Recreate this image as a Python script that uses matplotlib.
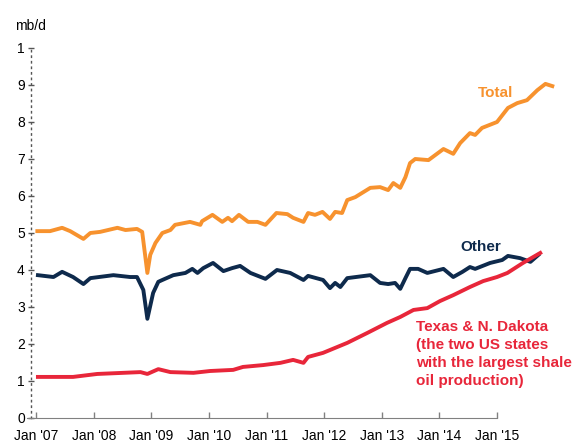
import matplotlib.pyplot as plt

plt.rcParams['font.family'] = ['Liberation Sans', 'DejaVu Sans']

# (year, mb/d); x follows the chart's own tick spacing
total_x = [2007.02, 2007.24, 2007.45, 2007.59, 2007.82, 2007.94, 2008.11, 2008.41, 2008.55,
           2008.75, 2008.84, 2008.93, 2008.98, 2009.07, 2009.19, 2009.33, 2009.41, 2009.67,
           2009.85, 2009.88, 2010.06, 2010.23, 2010.33, 2010.40, 2010.52, 2010.68, 2010.84,
           2010.98, 2011.17, 2011.36, 2011.46, 2011.64, 2011.72, 2011.84, 2011.97, 2012.10,
           2012.19, 2012.31, 2012.40, 2012.54, 2012.80, 2012.97, 2013.11, 2013.20, 2013.32,
           2013.41, 2013.49, 2013.58, 2013.81, 2014.07, 2014.24, 2014.36, 2014.53, 2014.62,
           2014.74, 2015.00, 2015.19, 2015.35, 2015.52, 2015.70, 2015.84, 2015.96]
total_y = [5.05, 5.05, 5.14, 5.05, 4.84, 5.00, 5.03, 5.14, 5.08,
           5.11, 5.03, 3.92, 4.41, 4.73, 5.00, 5.08, 5.22, 5.30,
           5.22, 5.32, 5.49, 5.30, 5.41, 5.32, 5.49, 5.30, 5.30,
           5.22, 5.54, 5.51, 5.41, 5.30, 5.54, 5.49, 5.57, 5.38,
           5.57, 5.54, 5.89, 5.97, 6.22, 6.24, 6.16, 6.35, 6.22,
           6.51, 6.89, 7.00, 6.97, 7.27, 7.14, 7.43, 7.70, 7.65,
           7.84, 8.00, 8.38, 8.51, 8.59, 8.86, 9.03, 8.97]

other_x = [2007.03, 2007.30, 2007.45, 2007.64, 2007.82, 2007.94, 2008.34, 2008.63, 2008.75,
           2008.86, 2008.93, 2009.03, 2009.12, 2009.19, 2009.38, 2009.59, 2009.71, 2009.80,
           2009.90, 2010.07, 2010.25, 2010.40, 2010.54, 2010.72, 2010.98, 2011.18, 2011.41,
           2011.64, 2011.72, 2011.98, 2012.10, 2012.19, 2012.28, 2012.40, 2012.80, 2012.97,
           2013.11, 2013.23, 2013.32, 2013.41, 2013.49, 2013.63, 2013.79, 2014.07, 2014.24,
           2014.40, 2014.53, 2014.62, 2014.88, 2015.09, 2015.19, 2015.40, 2015.58, 2015.72]
other_y = [3.86, 3.81, 3.95, 3.81, 3.62, 3.78, 3.86, 3.81, 3.81,
           3.46, 2.68, 3.38, 3.68, 3.73, 3.86, 3.92, 4.03, 3.92,
           4.05, 4.19, 3.97, 4.05, 4.11, 3.92, 3.76, 4.00, 3.92,
           3.73, 3.84, 3.73, 3.51, 3.65, 3.54, 3.78, 3.86, 3.65,
           3.62, 3.65, 3.49, 3.78, 4.03, 4.03, 3.92, 4.03, 3.81,
           3.95, 4.08, 4.03, 4.19, 4.27, 4.38, 4.32, 4.22, 4.41]

shale_x = [2007.03, 2007.64, 2008.06, 2008.81, 2008.93, 2009.12, 2009.33, 2009.73, 2010.02,
           2010.42, 2010.59, 2010.94, 2011.24, 2011.46, 2011.64, 2011.72, 2011.98, 2012.40,
           2012.75, 2013.09, 2013.32, 2013.55, 2013.79, 2014.01, 2014.24, 2014.53, 2014.76,
           2015.00, 2015.18, 2015.45, 2015.75]
shale_y = [1.11, 1.11, 1.19, 1.24, 1.19, 1.32, 1.24, 1.22, 1.27,
           1.30, 1.38, 1.43, 1.49, 1.57, 1.49, 1.65, 1.76, 2.03,
           2.30, 2.57, 2.73, 2.92, 2.97, 3.16, 3.32, 3.54, 3.70,
           3.81, 3.92, 4.19, 4.46]

xticks = [2007, 2008, 2009, 2010, 2011, 2012, 2013, 2014, 2015]
xlabels = ["Jan '07", "Jan '08", "Jan '09", "Jan '10", "Jan '11", "Jan '12", "Jan '13", "Jan '14", "Jan '15"]
yticks = [0, 1, 2, 3, 4, 5, 6, 7, 8, 9, 10]
ylabels = ['0', '1', '2', '3', '4', '5', '6', '7', '8', '9', '1']

c_total = '#F7922E'
c_other = '#0E2A4C'
c_shale = '#E8263A'

fig = plt.figure(figsize=(5.84, 4.44), dpi=100)
ax = fig.add_axes([0.0531, 0.0586, 0.8966, 0.8333])

ax.plot(total_x, total_y, color=c_total, lw=2.8, solid_joinstyle='round')
ax.plot(other_x, other_y, color=c_other, lw=2.8, solid_joinstyle='round')
ax.plot(shale_x, shale_y, color=c_shale, lw=2.8, solid_joinstyle='round')

ax.set_xlim(2006.91, 2016.0)
ax.set_ylim(0, 10)
ax.set_xticks(xticks)
ax.set_xticklabels(xlabels)
ax.set_yticks(yticks)
ax.set_yticklabels(ylabels)

for s in ['top', 'right']:
    ax.spines[s].set_visible(False)
ax.spines['bottom'].set_bounds(2006.84, 2015)
ax.spines['bottom'].set_color('#808080')
ax.spines['left'].set_color('#555555')
ax.spines['left'].set_linewidth(1.0)
ax.spines['left'].set_linestyle((0, (1, 3)))

ax.tick_params(axis='x', direction='in', length=4, width=1, color='#808080', labelsize=10, pad=8)
ax.tick_params(axis='y', direction='inout', length=5, width=1, color='#555555', labelsize=10, pad=2)

ax.text(-0.03, 1.06, 'mb/d', transform=ax.transAxes, fontsize=10, va='center', ha='left')

ax.text(2014.98, 8.78, 'Total', color=c_total, fontsize=11, fontweight='bold', ha='center', va='center')
ax.text(2014.72, 4.62, 'Other', color=c_other, fontsize=11, fontweight='bold', ha='center', va='center')
ax.text(2013.59, 2.66,
        'Texas & N. Dakota\n(the two US states\nwith the largest shale\noil production)',
        color=c_shale, fontsize=11, fontweight='bold', ha='left', va='top', linespacing=1.38)

fig.savefig('out.png', dpi=100)
